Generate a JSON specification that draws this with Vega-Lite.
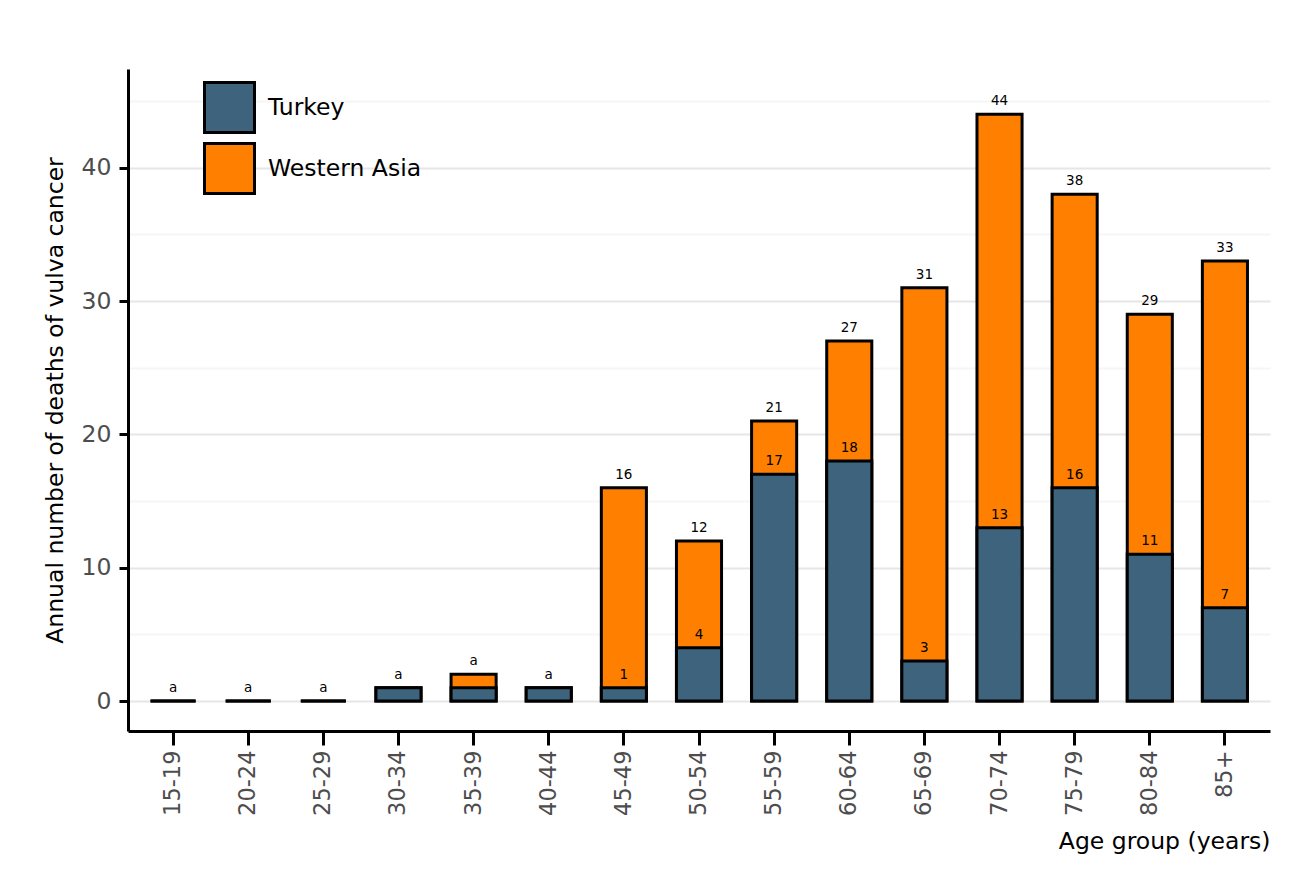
{
  "$schema": "https://vega.github.io/schema/vega-lite/v6.json",
  "autosize": "none",
  "width": 1142,
  "height": 662,
  "padding": {"left": 128, "top": 69, "right": 41, "bottom": 150},
  "background": "white",
  "config": {
    "font": "DejaVu Sans",
    "view": {"stroke": null}
  },
  "datasets": {
    "d": [
      {"age": "15-19", "series": "Western Asia", "value": 0, "label": "a"},
      {"age": "20-24", "series": "Western Asia", "value": 0, "label": "a"},
      {"age": "25-29", "series": "Western Asia", "value": 0, "label": "a"},
      {"age": "30-34", "series": "Western Asia", "value": 1, "label": "a"},
      {"age": "35-39", "series": "Western Asia", "value": 2, "label": "a"},
      {"age": "40-44", "series": "Western Asia", "value": 1, "label": "a"},
      {"age": "45-49", "series": "Western Asia", "value": 16, "label": "16"},
      {"age": "50-54", "series": "Western Asia", "value": 12, "label": "12"},
      {"age": "55-59", "series": "Western Asia", "value": 21, "label": "21"},
      {"age": "60-64", "series": "Western Asia", "value": 27, "label": "27"},
      {"age": "65-69", "series": "Western Asia", "value": 31, "label": "31"},
      {"age": "70-74", "series": "Western Asia", "value": 44, "label": "44"},
      {"age": "75-79", "series": "Western Asia", "value": 38, "label": "38"},
      {"age": "80-84", "series": "Western Asia", "value": 29, "label": "29"},
      {"age": "85+", "series": "Western Asia", "value": 33, "label": "33"},
      {"age": "15-19", "series": "Turkey", "value": 0, "label": ""},
      {"age": "20-24", "series": "Turkey", "value": 0, "label": ""},
      {"age": "25-29", "series": "Turkey", "value": 0, "label": ""},
      {"age": "30-34", "series": "Turkey", "value": 1, "label": ""},
      {"age": "35-39", "series": "Turkey", "value": 1, "label": ""},
      {"age": "40-44", "series": "Turkey", "value": 1, "label": ""},
      {"age": "45-49", "series": "Turkey", "value": 1, "label": "1"},
      {"age": "50-54", "series": "Turkey", "value": 4, "label": "4"},
      {"age": "55-59", "series": "Turkey", "value": 17, "label": "17"},
      {"age": "60-64", "series": "Turkey", "value": 18, "label": "18"},
      {"age": "65-69", "series": "Turkey", "value": 3, "label": "3"},
      {"age": "70-74", "series": "Turkey", "value": 13, "label": "13"},
      {"age": "75-79", "series": "Turkey", "value": 16, "label": "16"},
      {"age": "80-84", "series": "Turkey", "value": 11, "label": "11"},
      {"age": "85+", "series": "Turkey", "value": 7, "label": "7"}
    ]
  },
  "data": {"name": "d"},
  "encoding": {
    "x": {
      "field": "age",
      "type": "nominal",
      "sort": null,
      "scale": {"paddingInner": 0.4, "paddingOuter": 0.3},
      "axis": {
        "title": "Age group (years)",
        "titleFontSize": 23.5,
        "titleFontWeight": "normal",
        "titleColor": "black",
        "titleAnchor": "end",
        "titlePadding": 14,
        "labelAngle": -90,
        "labelFontSize": 22.5,
        "labelColor": "#4d4d4d",
        "labelPadding": 5,
        "labelBaseline": "middle",
        "labelAlign": "right",
        "tickColor": "black",
        "tickSize": 14,
        "tickWidth": 3,
        "domainColor": "black",
        "domainWidth": 3,
        "grid": false
      }
    },
    "y": {
      "field": "value",
      "type": "quantitative",
      "scale": {"domain": [-2.25, 47.4], "nice": false, "zero": false},
      "axis": {
        "title": "Annual number of deaths of vulva cancer",
        "titleFontSize": 23.5,
        "titleFontWeight": "normal",
        "titleColor": "black",
        "titlePadding": 14,
        "values": [0, 5, 10, 15, 20, 25, 30, 35, 40, 45],
        "labelExpr": "datum.value % 10 == 0 ? datum.label : ''",
        "labelFontSize": 23.5,
        "labelColor": "#4d4d4d",
        "labelPadding": 8,
        "tickSize": 9,
        "tickWidth": 3,
        "tickColor": {"condition": {"test": "datum.value % 10 == 0", "value": "black"}, "value": "transparent"},
        "domainColor": "black",
        "domainWidth": 3,
        "grid": true,
        "gridWidth": 2,
        "gridColor": {"condition": {"test": "datum.value % 10 == 0", "value": "#e6e6e6"}, "value": "#f6f6f6"}
      }
    }
  },
  "layer": [
    {
      "transform": [{"filter": "datum.series == 'Western Asia'"}],
      "mark": {"type": "bar", "stroke": "black", "strokeWidth": 3},
      "encoding": {
        "y2": {"datum": 0},
        "color": {
          "field": "series",
          "type": "nominal",
          "scale": {"domain": ["Turkey", "Western Asia"], "range": ["#3e637d", "#ff8000"]},
          "legend": {
            "title": null,
            "orient": "none",
            "legendX": 75,
            "legendY": 12,
            "symbolType": "square",
            "symbolSize": 2500,
            "symbolStrokeColor": "black",
            "symbolStrokeWidth": 3,
            "symbolOpacity": 1,
            "labelFontSize": 23.5,
            "labelColor": "black",
            "labelOffset": 12,
            "rowPadding": -2,
            "padding": 0
          }
        }
      }
    },
    {
      "transform": [{"filter": "datum.series == 'Turkey'"}],
      "mark": {"type": "bar", "stroke": "black", "strokeWidth": 3},
      "encoding": {
        "y2": {"datum": 0},
        "color": {"field": "series", "type": "nominal"}
      }
    },
    {
      "mark": {"type": "text", "fontSize": 13.5, "color": "black", "baseline": "alphabetic", "dy": -9},
      "encoding": {"text": {"field": "label"}}
    }
  ]
}
